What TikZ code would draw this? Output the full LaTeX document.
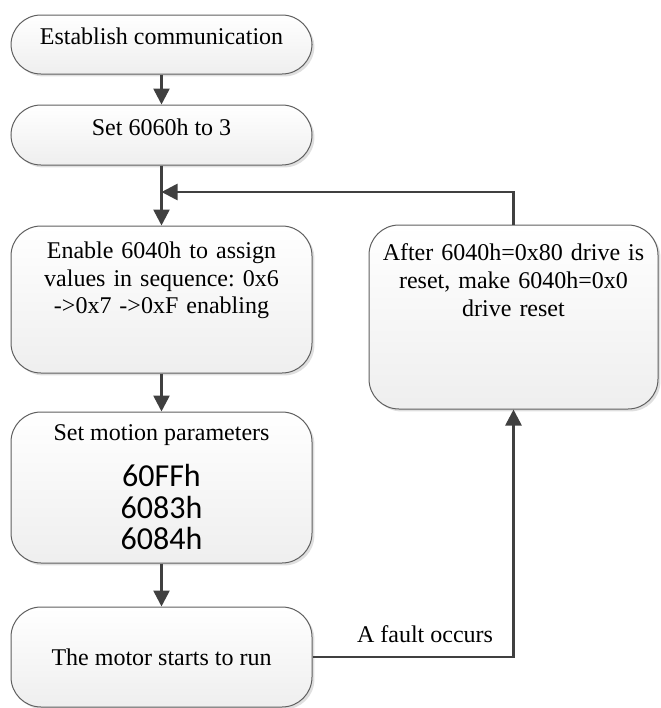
\documentclass[tikz,border=0pt]{standalone}
\usepackage{fontspec}
\setmainfont{Liberation Serif}
\newfontfamily\numfamily{Carlito}
\usepackage{tikz}
\usetikzlibrary{arrows.meta}
\usetikzlibrary{shadows}
\definecolor{linegray}{RGB}{64,64,64}
\definecolor{edgegray}{RGB}{95,95,95}
\frenchspacing
\tikzset{
  stepbox/.style = {draw=edgegray, line width=0.5pt, rounded corners=15pt,
    top color=white, bottom color=gray!13,
    drop shadow={shadow xshift=1.2pt, shadow yshift=-1.2pt, opacity=0.25},
    minimum width=150.5pt, align=center, inner sep=0pt,
    font=\fontsize{12pt}{13.8pt}\selectfont},
  flow/.style = {draw=linegray, line width=1.3pt, -{Triangle[width=8pt,length=8pt]}}
}
\newcommand{\Num}{\fontsize{16pt}{16pt}\selectfont\numfamily}
\newcommand{\TopText}[3]{\parbox[c][#1][t]{\linewidth}{\centering\vspace*{#2}#3}}

\begin{document}
\begin{tikzpicture}[x=0.5pt,y=-0.5pt]
\useasboundingbox (0,0) rectangle (660,708);

% left column
\node[stepbox, minimum height=29.5pt, text height=8pt, text depth=8pt] (est) at (161.5,44.5) {Establish communication};
\node[stepbox, minimum height=30pt, text height=8pt, text depth=8pt] (mode) at (161.5,135) {Set 6060h to 3};
\node[stepbox, text width=150.5pt] (enable) at (161.5,299.5)
  {\TopText{73.5pt}{8pt}{Enable 6040h to assign\\values in sequence: 0x6\\->0x7 ->0xF enabling}};
\node[stepbox, minimum height=75.5pt] (params) at (161.5,487.5)
  {Set motion parameters\\[9pt]\Num 60FFh\\[2pt]\Num 6083h\\[2pt]\Num 6084h};
\node[stepbox, minimum height=50pt] (run) at (161.5,657) {The motor starts to run};

% right column
\node[stepbox, minimum width=144.5pt, text width=144.5pt] (reset) at (513.5,317)
  {\TopText{92pt}{9.5pt}{After 6040h=0x80 drive is\\reset, make 6040h=0x0\\drive reset}};

\coordinate (join) at (161.5,192);

\draw[flow] (est) -- (mode);
\draw[flow] (mode) -- (enable);
\draw[flow] (enable) -- (params);
\draw[flow] (params) -- (run);
\draw[flow] (reset) |- (join);
\draw[flow] (run) -| (reset)
  node[pos=0.28, above=6.5pt, inner sep=0pt, font=\fontsize{12pt}{14.4pt}\selectfont] (fault) {A fault occurs};
\end{tikzpicture}
\end{document}
